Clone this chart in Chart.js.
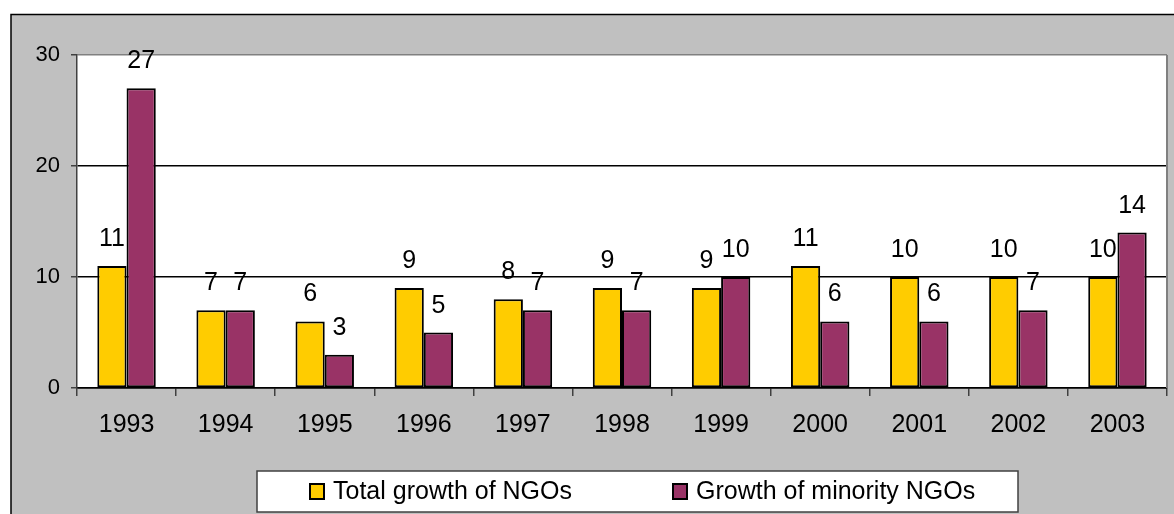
<!DOCTYPE html>
<html>
<head>
<meta charset="utf-8">
<script src="https://cdn.jsdelivr.net/npm/chart.js@4/dist/chart.umd.min.js"></script>
<style>
  html, body { margin: 0; padding: 0; background: #fff; }
  canvas { display: block; }
</style>
</head>
<body>
<canvas id="ngoChart" width="1174" height="514"></canvas>
<script>
const years = ["1993", "1994", "1995", "1996", "1997", "1998", "1999", "2000", "2001", "2002", "2003"];
const totalGrowth = [11, 7, 6, 9, 8, 9, 9, 11, 10, 10, 10];
const minorityGrowth = [27, 7, 3, 5, 7, 7, 10, 6, 6, 7, 14];
const yTicks = [0, 10, 20, 30];

const FONT = "'Liberation Sans', Arial, sans-serif";

// grey frame + white plot area
const backdrop = {
  id: "backdrop",
  beforeDraw(chart) {
    const ctx = chart.ctx;
    const a = chart.chartArea;
    ctx.save();
    ctx.fillStyle = "#fff";
    ctx.fillRect(0, 0, chart.width, chart.height);
    ctx.fillStyle = "#c0c0c0";
    ctx.fillRect(11, 15, chart.width - 11, chart.height - 15);
    ctx.strokeStyle = "#000";
    ctx.lineWidth = 1.5;
    ctx.beginPath();
    ctx.moveTo(11, chart.height);
    ctx.lineTo(11, 14.5);
    ctx.lineTo(chart.width, 14.5);
    ctx.stroke();
    ctx.fillStyle = "#fff";
    ctx.fillRect(a.left, a.top, a.right - a.left, a.bottom - a.top);
    ctx.restore();
  },
  afterDraw(chart) {
    const ctx = chart.ctx;
    const a = chart.chartArea;
    ctx.save();
    ctx.strokeStyle = "#808080";
    ctx.lineWidth = 2;
    ctx.beginPath();
    ctx.moveTo(a.right, a.top);
    ctx.lineTo(a.right, a.bottom);
    ctx.stroke();
    ctx.restore();
  }
};

// value labels above the bars
const valueLabels = {
  id: "valueLabels",
  afterDatasetsDraw(chart) {
    const ctx = chart.ctx;
    ctx.save();
    ctx.font = "25px " + FONT;
    ctx.fillStyle = "#000";
    ctx.textAlign = "center";
    ctx.textBaseline = "alphabetic";
    chart.data.datasets.forEach((ds, i) => {
      chart.getDatasetMeta(i).data.forEach((bar, j) => {
        ctx.fillText(String(ds.data[j]), bar.x, bar.y - 20);
      });
    });
    ctx.restore();
  }
};

// boxed legend at the bottom
const boxLegend = {
  id: "boxLegend",
  afterDraw(chart) {
    const ctx = chart.ctx;
    ctx.save();
    ctx.fillStyle = "#fff";
    ctx.fillRect(257, 471, 761, 41);
    ctx.strokeStyle = "#404040";
    ctx.lineWidth = 1.5;
    ctx.strokeRect(257, 471, 761, 41);
    const xs = [310, 673];
    ctx.font = "25px " + FONT;
    ctx.textBaseline = "middle";
    chart.data.datasets.forEach((ds, i) => {
      ctx.fillStyle = ds.backgroundColor;
      ctx.fillRect(xs[i], 484, 14, 15);
      ctx.strokeStyle = "#000";
      ctx.lineWidth = 2;
      ctx.strokeRect(xs[i], 484, 14, 15);
      ctx.fillStyle = "#000";
      ctx.fillText(ds.label, xs[i] + 23, 492);
    });
    ctx.restore();
  }
};

new Chart(document.getElementById("ngoChart"), {
  type: "bar",
  data: {
    labels: years,
    datasets: [
      {
        label: "Total growth of NGOs",
        data: totalGrowth,
        backgroundColor: "#ffcc00",
        borderColor: "#000",
        borderWidth: 2,
        borderSkipped: false
      },
      {
        label: "Growth of minority NGOs",
        data: minorityGrowth,
        backgroundColor: "#993366",
        borderColor: "#000",
        borderWidth: 2,
        borderSkipped: false
      }
    ]
  },
  options: {
    responsive: false,
    animation: false,
    devicePixelRatio: 1,
    layout: { padding: { left: 0, top: 55, right: 7, bottom: 0 } },
    datasets: { bar: { categoryPercentage: 0.59, barPercentage: 1 } },
    plugins: {
      legend: { display: false },
      tooltip: { enabled: false }
    },
    scales: {
      x: {
        offset: true,
        grid: {
          offset: true,
          drawOnChartArea: false,
          tickLength: 8,
          tickColor: "#404040",
          lineWidth: 1.5
        },
        border: { color: "#000", width: 1.5 },
        ticks: { font: { family: FONT, size: 25 }, color: "#000", padding: 14, maxRotation: 0 },
        afterFit(scale) { scale.height = 126; }
      },
      y: {
        min: 0,
        max: 30,
        afterBuildTicks(scale) { scale.ticks = yTicks.map(v => ({ value: v })); },
        grid: {
          color: (c) => c.tick && c.tick.value === 30 ? "#808080" : "#000",
          tickColor: "#404040",
          lineWidth: 1.5,
          tickLength: 6
        },
        border: { color: "#404040", width: 1.5 },
        ticks: { font: { family: FONT, size: 22 }, color: "#000", padding: 11 },
        afterFit(scale) { scale.width = 77; }
      }
    }
  },
  plugins: [backdrop, valueLabels, boxLegend]
});
</script>
</body>
</html>
